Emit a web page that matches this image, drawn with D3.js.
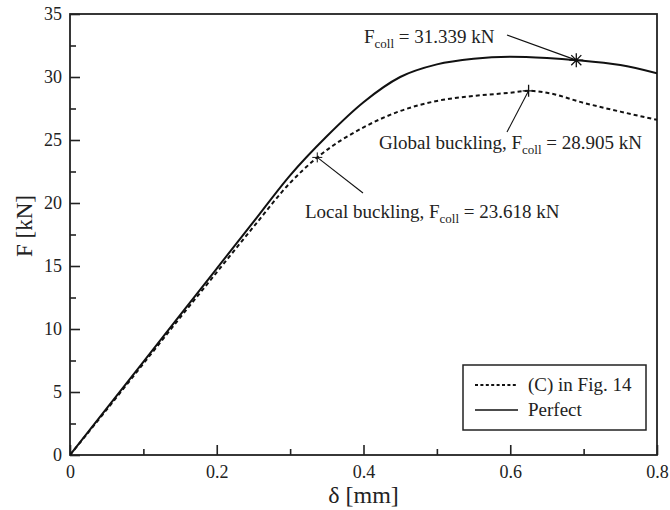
<!DOCTYPE html>
<html>
<head>
<meta charset="utf-8">
<script src="https://cdn.jsdelivr.net/npm/d3@7"></script>
<style>
  html, body { margin: 0; padding: 0; background: #fff; }
  svg { display: block; font-family: "Liberation Serif", "Times New Roman", serif; }
</style>
</head>
<body>
<svg id="chart" width="670" height="510"></svg>
<script>
// Load–displacement curves
const deltaPerfect = [0, 0.05, 0.1, 0.15, 0.2, 0.25, 0.3, 0.35, 0.4, 0.45, 0.5, 0.55, 0.6, 0.65, 0.69, 0.75, 0.8];
const forcePerfect = [0, 3.7, 7.4, 11.1, 14.8, 18.5, 22.2, 25.3, 28.0, 30.0, 31.0, 31.45, 31.6, 31.5, 31.339, 30.95, 30.3];

const deltaC14 = [0, 0.05, 0.1, 0.15, 0.2, 0.25, 0.3, 0.337, 0.4, 0.45, 0.5, 0.55, 0.6, 0.625, 0.65, 0.7, 0.75, 0.8];
const forceC14 = [0, 3.6, 7.25, 10.9, 14.5, 18.1, 21.6, 23.618, 26.0, 27.3, 28.1, 28.5, 28.75, 28.905, 28.75, 27.95, 27.25, 26.6];

// Collapse points
const collapsePerfect = { delta: 0.69, force: 31.339 };
const collapseGlobal = { delta: 0.625, force: 28.905 };
const collapseLocal = { delta: 0.337, force: 23.618 };

const xTicks = [0, 0.2, 0.4, 0.6, 0.8];
const xMinorTicks = [0.1, 0.3, 0.5, 0.7];
const yTicks = [0, 5, 10, 15, 20, 25, 30, 35];
const yMinorTicks = [2.5, 7.5, 12.5, 17.5, 22.5, 27.5, 32.5];

const legendLabels = ["(C) in Fig. 14", "Perfect"];

const svg = d3.select("#chart");
const margin = { left: 70, top: 14, right: 13, bottom: 55 };
const W = 670, H = 510;
const x = d3.scaleLinear().domain([0, 0.8]).range([margin.left, W - margin.right]);
const y = d3.scaleLinear().domain([0, 35]).range([H - margin.bottom, margin.top]);

const fmt = d => d === 0 ? "0" : d3.format("")(d);

// clip
svg.append("defs").append("clipPath").attr("id", "plotclip")
  .append("rect")
  .attr("x", x(0)).attr("y", y(35))
  .attr("width", x(0.8) - x(0)).attr("height", y(0) - y(35));

// Axes with inward ticks
const xAxis = svg.append("g").attr("transform", `translate(0,${y(0)})`)
  .call(d3.axisBottom(x).tickValues(xTicks).tickFormat(fmt).tickSize(-10).tickPadding(10));
const xMinor = svg.append("g").attr("transform", `translate(0,${y(0)})`)
  .call(d3.axisBottom(x).tickValues(xMinorTicks).tickFormat("").tickSize(-6));
const yAxis = svg.append("g").attr("transform", `translate(${x(0)},0)`)
  .call(d3.axisLeft(y).tickValues(yTicks).tickFormat(fmt).tickSize(-10).tickPadding(8));
const yMinor = svg.append("g").attr("transform", `translate(${x(0)},0)`)
  .call(d3.axisLeft(y).tickValues(yMinorTicks).tickFormat("").tickSize(-6));

[xAxis, xMinor, yAxis, yMinor].forEach(g => {
  g.select(".domain").remove();
  g.selectAll(".tick line").attr("stroke", "#222").attr("stroke-width", 1.6);
  g.selectAll(".tick text").attr("fill", "#222").attr("font-size", 18)
    .attr("font-family", "Liberation Serif, serif");
});

// frame
svg.append("rect")
  .attr("x", x(0)).attr("y", y(35))
  .attr("width", x(0.8) - x(0)).attr("height", y(0) - y(35))
  .attr("fill", "none").attr("stroke", "#222").attr("stroke-width", 1.8);

// axis titles
svg.append("text")
  .attr("x", (x(0) + x(0.8)) / 2).attr("y", 503)
  .attr("text-anchor", "middle").attr("font-size", 24).attr("fill", "#222")
  .text("δ [mm]");
svg.append("text")
  .attr("transform", `translate(32,226) rotate(-90)`)
  .attr("text-anchor", "middle").attr("font-size", 23).attr("fill", "#222")
  .text("F [kN]");

// curves
const line = d3.line().x(d => x(d[0])).y(d => y(d[1])).curve(d3.curveMonotoneX);
const plot = svg.append("g").attr("clip-path", "url(#plotclip)");

plot.append("path")
  .datum(deltaC14.map((d, i) => [d, forceC14[i]]))
  .attr("d", line).attr("fill", "none")
  .attr("stroke", "#111").attr("stroke-width", 2).attr("stroke-dasharray", "4,3");

plot.append("path")
  .datum(deltaPerfect.map((d, i) => [d, forcePerfect[i]]))
  .attr("d", line).attr("fill", "none")
  .attr("stroke", "#111").attr("stroke-width", 2);

// markers
function plus(cx, cy, r) {
  return `M${cx - r},${cy}H${cx + r}M${cx},${cy - r}V${cy + r}`;
}
function star(cx, cy, r) {
  const d = r * 0.72;
  return plus(cx, cy, r) + `M${cx - d},${cy - d}L${cx + d},${cy + d}M${cx - d},${cy + d}L${cx + d},${cy - d}`;
}
svg.append("path").attr("d", star(x(collapsePerfect.delta), y(collapsePerfect.force), 7))
  .attr("stroke", "#111").attr("stroke-width", 1.3).attr("fill", "none");
svg.append("path").attr("d", plus(x(collapseGlobal.delta), y(collapseGlobal.force), 6))
  .attr("stroke", "#111").attr("stroke-width", 1.3).attr("fill", "none");
svg.append("path").attr("d", plus(x(collapseLocal.delta), y(collapseLocal.force), 5))
  .attr("stroke", "#111").attr("stroke-width", 1).attr("fill", "none");

// annotations
function leader(x1, y1, x2, y2) {
  svg.append("line").attr("x1", x1).attr("y1", y1).attr("x2", x2).attr("y2", y2)
    .attr("stroke", "#111").attr("stroke-width", 1.1);
}
leader(507, 35, x(collapsePerfect.delta), y(collapsePerfect.force));
leader(507, 132, x(collapseGlobal.delta), y(collapseGlobal.force));
leader(363, 193, x(collapseLocal.delta), y(collapseLocal.force));

function collapseLabel(tx, ty, prefix, value) {
  const t = svg.append("text").attr("x", tx).attr("y", ty)
    .attr("font-size", 19).attr("fill", "#222");
  t.append("tspan").text(prefix + "F");
  t.append("tspan").attr("font-size", 13).attr("dy", 5).text("coll");
  t.append("tspan").attr("dy", -5).text(" = " + d3.format(".3f")(value) + " kN");
}
collapseLabel(364, 43, "", collapsePerfect.force);
collapseLabel(379, 149, "Global buckling, ", collapseGlobal.force);
collapseLabel(305, 218, "Local buckling, ", collapseLocal.force);

// legend
const lg = svg.append("g");
lg.append("rect").attr("x", 463).attr("y", 365).attr("width", 183).attr("height", 65)
  .attr("fill", "#fff").attr("stroke", "#222").attr("stroke-width", 1.5);
legendLabels.forEach((lab, i) => {
  const ly = 385 + i * 25;
  lg.append("line").attr("x1", 475).attr("x2", 518).attr("y1", ly).attr("y2", ly)
    .attr("stroke", "#111").attr("stroke-width", i === 0 ? 2 : 1.6)
    .attr("stroke-dasharray", i === 0 ? "3,2.4" : null);
  lg.append("text").attr("x", 528).attr("y", ly + 6).attr("font-size", 19).attr("fill", "#222").text(lab);
});
</script>
</body>
</html>
